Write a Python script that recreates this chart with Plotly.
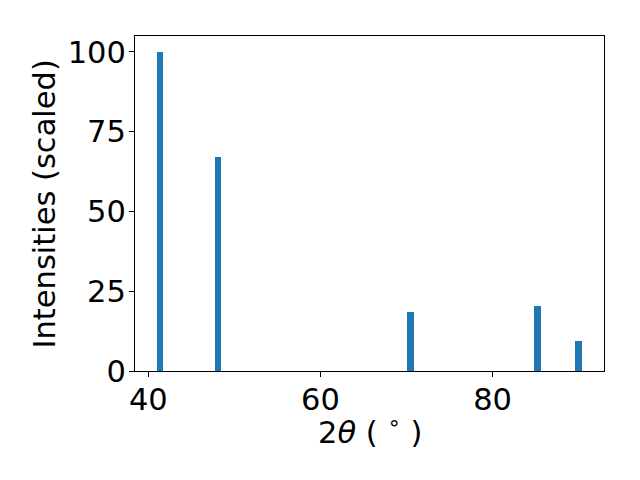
import plotly.graph_objects as go

two_theta = [41.35, 48.1, 70.5, 85.2, 90.0]
intensity = [100, 67.1, 18.5, 20.4, 9.4]
x_ticks = [40, 60, 80]
y_ticks = [0, 25, 50, 75, 100]

fig = go.Figure(go.Bar(x=two_theta, y=intensity, width=0.8,
                       marker=dict(color="#1f77b4", line=dict(width=0))))

def f():
    return dict(family="DejaVu Sans", size=30.5, color="black")

axis_common = dict(showgrid=False, zeroline=False, showline=True, linecolor="black",
                   linewidth=1, mirror=True, ticks="outside", ticklen=5,
                   tickcolor="black", tickwidth=1)

fig.update_layout(
    width=640, height=480,
    margin=dict(l=127, r=44, t=28, b=117),
    paper_bgcolor="white", plot_bgcolor="white",
    font=f(), showlegend=False, bargap=0,
    xaxis=dict(range=[38.45, 92.95], tickvals=x_ticks, tickfont=f(),
               ticklabelstandoff=-4, automargin=False, **axis_common),
    yaxis=dict(range=[0, 105], tickvals=y_ticks, tickfont=f(),
               ticklabelstandoff=-3, automargin=False, **axis_common),
    annotations=[
        dict(text="2<i>θ</i> ( <sup>∘</sup> )", xref="paper", yref="paper",
             x=0.5, y=-0.176, xanchor="center", yanchor="middle",
             showarrow=False, font=f()),
        dict(text="Intensities (scaled)", xref="paper", yref="paper",
             x=-0.192, y=0.5, xanchor="center", yanchor="middle", textangle=-90,
             showarrow=False, font=f()),
    ],
)

fig.write_html("out.html")
